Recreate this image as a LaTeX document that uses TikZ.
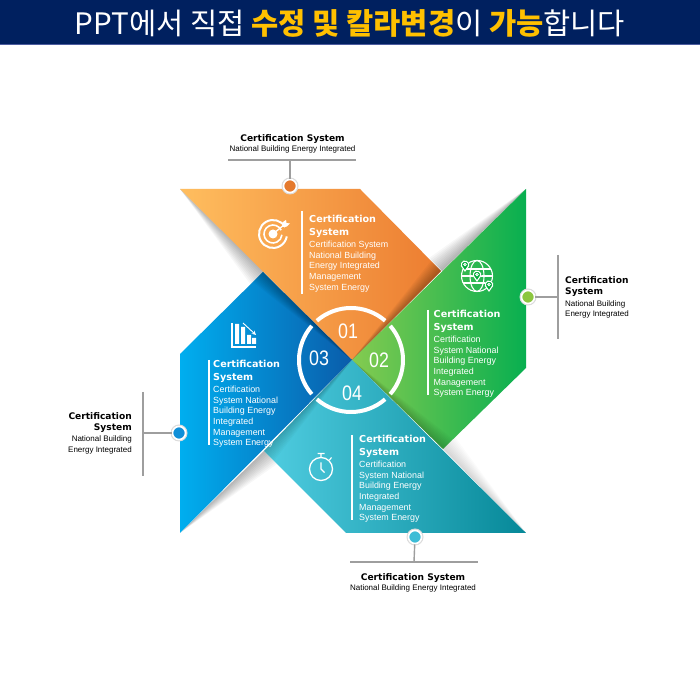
\documentclass[tikz,border=0pt]{standalone}
\usepackage{fontspec}
\setmainfont{Liberation Sans}
\newfontfamily\krfont{Noto Sans CJK KR}
\newfontfamily\headfont{DejaVu Sans}
\usetikzlibrary{calc}
\definecolor{band}{HTML}{00205F}
\definecolor{gold}{HTML}{FFC000}
\definecolor{dotO}{HTML}{E57A2E}
\definecolor{dotG}{HTML}{8CC63F}
\definecolor{dotB}{HTML}{0F8FD8}
\definecolor{dotT}{HTML}{3DBCD6}
\newcommand{\shadowwedge}[4]{\foreach \k in {0.1,0.2,...,1.0}{\fill[black,opacity=#4] (#1)--(#2)--($(#2)+\k*(#3)$)--cycle;}}
\newcommand{\ctitle}{\headfont\bfseries\fontsize{9.6}{12}\selectfont}
\newcommand{\cbody}{\fontsize{8.9}{10.7}\selectfont}
\newcommand{\stitle}{\headfont\bfseries\fontsize{9.1}{11.5}\selectfont}
\newcommand{\sbody}{\fontsize{8}{10.5}\selectfont}
\tikzset{
  pane/.style={shading=axis,shading angle=90},
  card/.style={anchor=north west,align=left,inner sep=0pt,text=white,font=\cbody},
  rule/.style={draw=white,line width=1.2pt},
  leader/.style={draw=black!38,line width=1.4pt},
  dotnode/.style={circle,draw=white,line width=1.6pt,minimum size=13pt,inner sep=0pt},
  halo/.style={circle,fill=black!14,minimum size=17pt,inner sep=0pt},
  ring/.style={draw=white,line width=4pt},
  num/.style={text=white,inner sep=0pt,font=\fontsize{21}{21}\selectfont},
  ico/.style={draw=white,line width=1.1pt,fill=none},
  captext/.style={inner sep=0pt,text=black,align=center,font=\sbody},
}
\begin{document}
\begin{tikzpicture}[x=1pt,y=1pt]
\useasboundingbox (0,0) rectangle (700,700);
\fill[white] (0,0) rectangle (700,700);
% header
\fill[band] (0,655) rectangle (700,700);
\fill[black!30!blue!40!white,opacity=.5] (0,654.5) rectangle (700,655.5);
\node[inner sep=0pt] (head) at (350,673.5) {\krfont\fontsize{30}{30}\selectfont\resizebox{550pt}{!}{\strut\color{white}PPT에서 직접 {\bfseries\color{gold}수정 및 칼라변경}이 {\bfseries\color{gold}가능}합니다}};
% outer shadows
\shadowwedge{180,511}{264,428}{-13,-13}{0.033}
\shadowwedge{526,511}{442,429}{-13,13}{0.033}
\shadowwedge{180,167}{264,249}{13,-13}{0.033}
\shadowwedge{526,167}{443,251}{12,12}{0.015}
% panes
\shade[pane,left color={rgb,255:red,255;green,190;blue,95},right color={rgb,255:red,236;green,124;blue,48}]
  (180,511)--(360,511)--(441,429)--(352,340)--cycle;
\shade[pane,left color={rgb,255:red,132;green,203;blue,80},right color={rgb,255:red,8;green,175;blue,80}]
  (526,511)--(526,332)--(443,251)--(352,340)--cycle;
\shade[pane,left color={rgb,255:red,0;green,174;blue,239},right color={rgb,255:red,10;green,92;blue,170}]
  (180,167)--(180,346)--(263,428)--(352,340)--cycle;
\shade[pane,left color={rgb,255:red,80;green,205;blue,225},right color={rgb,255:red,6;green,136;blue,152}]
  (526,167)--(346,167)--(264,249)--(352,340)--cycle;
% inner shadows
\shadowwedge{352,340}{263,428}{-10,-10}{0.03}
\shadowwedge{352,340}{441,429}{-10,10}{0.03}
\shadowwedge{352,340}{443,251}{10,10}{0.02}
\shadowwedge{352,340}{264,249}{10,-10}{0.02}
% ring
\coordinate (c) at (351,340);
\foreach \a in {49,139,229,319}{\draw[ring] ($(c)+(\a:52)$) arc[start angle=\a,delta angle=82,radius=52];}
\node[num] (n1) at (348,369) {\scalebox{.85}[1]{01}};
\node[num] (n2) at (379,340) {\scalebox{.85}[1]{02}};
\node[num] (n3) at (319,342) {\scalebox{.85}[1]{03}};
\node[num] (n4) at (352,307) {\scalebox{.85}[1]{04}};
% card text
\draw[rule] (302,489)--(302,406);
\node[card] (t1) at (309,484.5) {\ctitle Certification\\[1.5pt]\ctitle System\\[1.5pt]Certification System\\National Building\\Energy Integrated\\Management\\System Energy};
\draw[rule] (428,390)--(428,305);
\node[card] (t2) at (433.5,389.5) {\ctitle Certification\\[1.5pt]\ctitle System\\[1.5pt]Certification\\System National\\Building Energy\\Integrated\\Management\\System Energy};
\draw[rule] (209,340)--(209,255);
\node[card] (t3) at (213,339.5) {\ctitle Certification\\[1.5pt]\ctitle System\\[1.5pt]Certification\\System National\\Building Energy\\Integrated\\Management\\System Energy};
\draw[rule] (352,265)--(352,180);
\node[card] (t4) at (359,264.5) {\ctitle Certification\\[1.5pt]\ctitle System\\[1.5pt]Certification\\System National\\Building Energy\\Integrated\\Management\\System Energy};
% icon target
\begin{scope}[shift={(273,466)}]
\draw[ico,line width=2pt] (30:14) arc[start angle=30,end angle=350,radius=14];
\draw[ico,line width=1.6pt] (25:9) arc[start angle=25,end angle=355,radius=9];
\fill[white] (0,0) circle (4.5);
\draw[white,line width=1.3pt] (0,0)--(12,10);
\fill[white] (9,7)--(10,12)--(13,14)--(13.5,11)--(17,10.5)--(14,7.5)--cycle;
\end{scope}
% icon globe
\begin{scope}[shift={(477,424)}]
\draw[ico] (0,0) circle (15.5);
\draw[ico] (0,15.5) arc[start angle=90,end angle=270,x radius=7,y radius=15.5];
\draw[ico] (0,15.5) arc[start angle=90,end angle=-90,x radius=7,y radius=15.5];
\draw[ico] (-14,7)--(14,7) (-15.5,0)--(15.5,0) (-14,-7)--(14,-7);
\foreach \px/\py in {-12/11,0/1,12/-9}{
  \begin{scope}[shift={(\px,\py)}]
  \fill[green!50!teal!90!black] (0,-6)--(-4.5,0) arc[start angle=180,end angle=0,radius=4.5]--cycle;
  \draw[ico] (0,-6)--(-3.5,-1) arc[start angle=200,end angle=-20,radius=3.7]--cycle;
  \draw[ico,line width=.8pt] (0,0.5) circle (1.3);
  \end{scope}}
\end{scope}
% icon chart
\begin{scope}[shift={(232,353)}]
\draw[ico,line width=1.2pt] (0,24)--(0,0)--(24,0);
\fill[white] (3,3) rectangle (7,23) (9,3) rectangle (13,20) (15,3) rectangle (19,12) (20,3) rectangle (24,9);
\draw[white,line width=.9pt,-stealth] (11,24)--(24,12);
\end{scope}
% icon stopwatch
\begin{scope}[shift={(321,231)}]
\draw[ico,line width=1.3pt] (0,0) circle (11.5);
\draw[ico] (-3.5,15.5)--(3.5,15.5) (0,15.5)--(0,11.5) (8.5,9)--(10.5,11.5);
\draw[ico] (0,6.5)--(0,0)--(3.5,-3.5);
\end{scope}
% callouts
\coordinate (b1) at (290,540);
\draw[leader] (228,540)--(356,540);
\coordinate (b2) at (558,403);
\draw[leader] (558,445)--(558,361);
\coordinate (b3) at (143,267);
\draw[leader] (143,308)--(143,224);
\coordinate (b4) at (414,138);
\draw[leader] (350,138)--(478,138);
\node[halo] at (290,514) {};
\node[dotnode,fill=dotO] (d1) at (290,514) {};
\node[halo] at (528,403) {};
\node[dotnode,fill=dotG] (d2) at (528,403) {};
\node[halo] at (179,267) {};
\node[dotnode,fill=dotB] (d3) at (179,267) {};
\node[halo] at (415,163) {};
\node[dotnode,fill=dotT] (d4) at (415,163) {};
\draw[leader] (d1)--(b1);
\draw[leader] (d2)--(b2);
\draw[leader] (d3)--(b3);
\draw[leader] (d4)--(b4);
\node[captext] (c1) at (292.5,556) {\stitle Certification System\\National Building Energy Integrated};
\node[captext] (c4) at (413,117) {\stitle Certification System\\National Building Energy Integrated};
\node[captext,anchor=north west,align=left] (c2) at (565,423.5) {\stitle Certification\\[.7pt]\stitle System\\[.7pt]National Building\\Energy Integrated};
\node[captext,anchor=north east,align=right] (c3) at (132,288) {\stitle Certification\\[.7pt]\stitle System\\[.7pt]National Building\\Energy Integrated};
\end{tikzpicture}
\end{document}
